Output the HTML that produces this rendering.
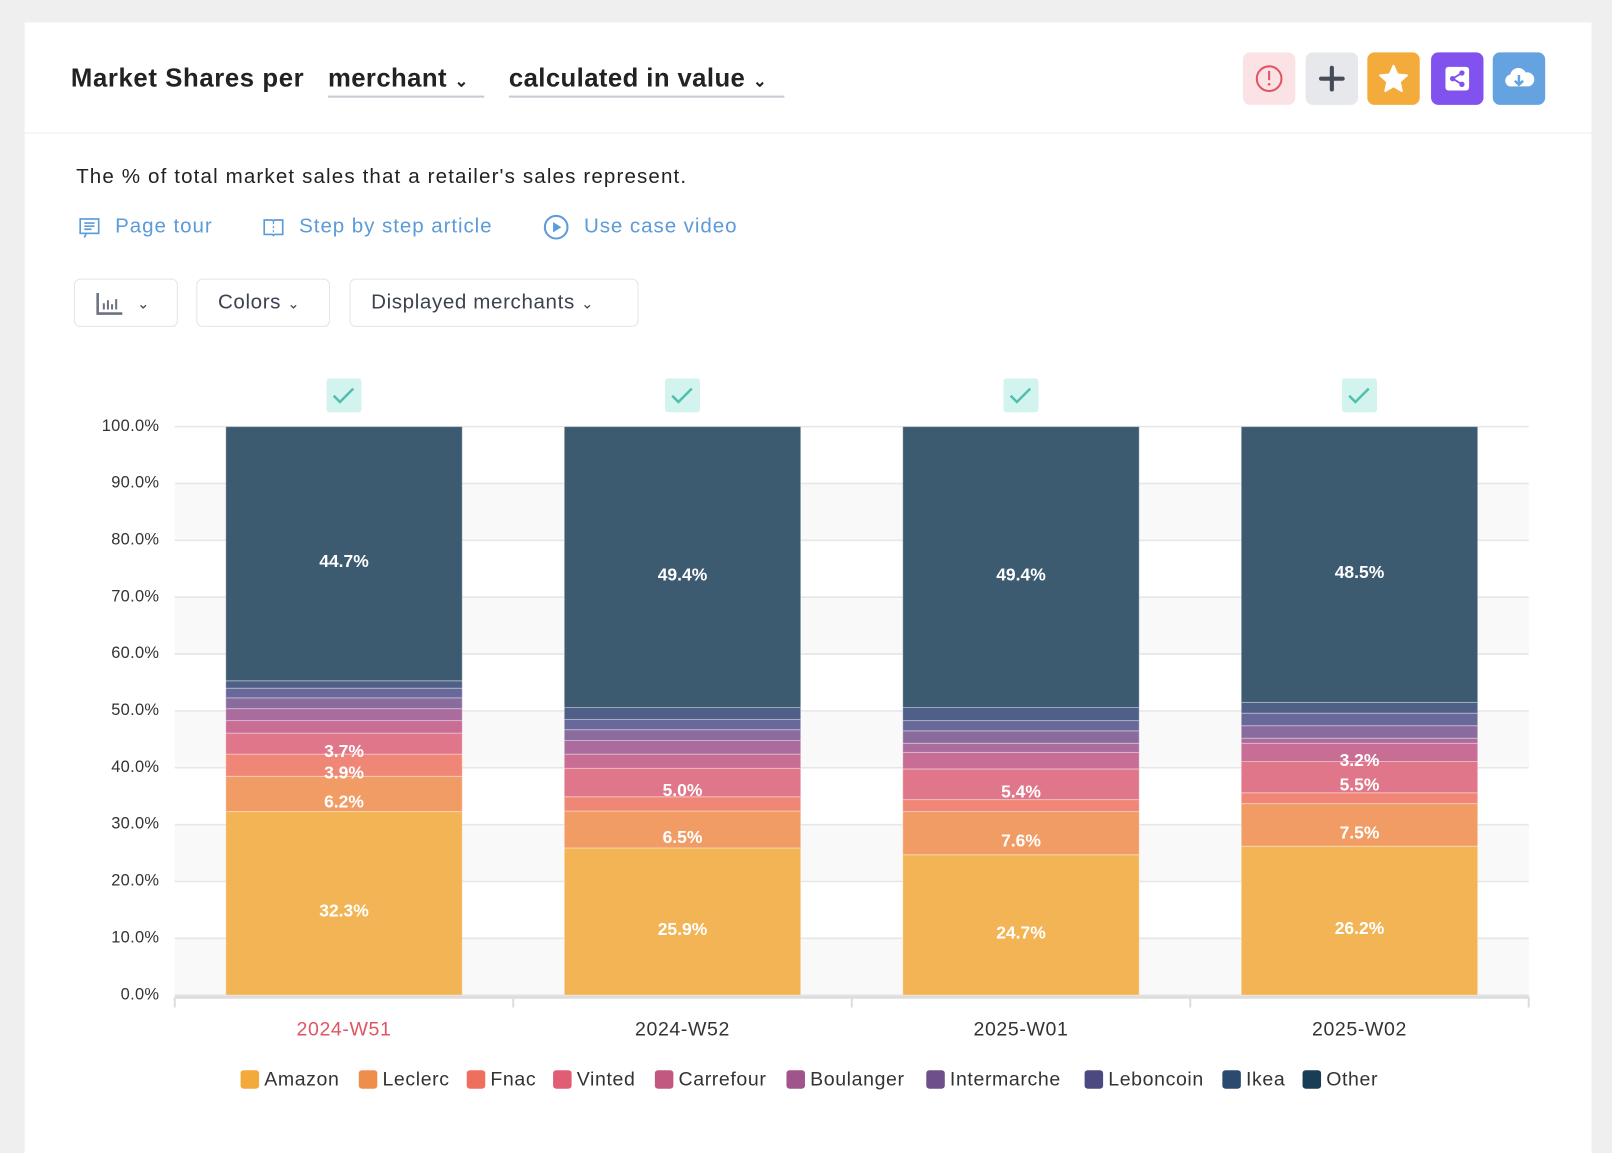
<!DOCTYPE html>
<html><head><meta charset="utf-8">
<style>
*{box-sizing:border-box;margin:0;padding:0}
body{width:1612px;height:1106px;background:#efefef;font-family:"Liberation Sans",sans-serif;overflow:hidden;position:relative}
#wrap{position:absolute;left:0;top:0;width:1568px;height:1076px;transform:scale(1.02806);transform-origin:0 0}
.card{position:absolute;left:24px;top:22px;width:1524px;height:1100px;background:#fff}
.hdr{position:absolute;left:0;top:0;width:1524px;height:108px;border-bottom:1px solid #eee}
.t{position:absolute;font-weight:bold;font-size:25px;color:#222;top:40px;letter-spacing:0.6px}
.dd{position:absolute;top:40px;font-weight:bold;font-size:25px;color:#222;border-bottom:2px solid #c8cbd3;padding-bottom:2px;letter-spacing:0.4px}
.btn{position:absolute;top:29px;width:51px;height:51px;border-radius:7px}
.desc{position:absolute;left:50px;top:139px;font-size:20px;color:#222;letter-spacing:1.1px}
.lnk{position:absolute;top:186px;font-size:20px;color:#5b9bd9;letter-spacing:0.9px;height:24px;line-height:24px}
.lnk svg{vertical-align:middle;margin-right:14px}
.tb{position:absolute;top:249px;height:47px;border:1px solid #e3e5ea;border-radius:6px;font-size:20px;color:#3c4250;line-height:45px;padding-left:20px;letter-spacing:0.6px}
</style></head><body>
<div id="wrap">
<div class="card">
 <div class="hdr">
  <div class="t" style="left:45px">Market Shares per</div>
  <div class="dd" style="left:295px;width:152px">merchant <span style="font-size:16px">&#8964;</span></div>
  <div class="dd" style="left:471px;width:268px">calculated in value <span style="font-size:16px">&#8964;</span></div>
  <div class="btn" style="left:1185px;background:#fbe3e5"><svg width="51" height="51"><circle cx="25.5" cy="25.5" r="12" fill="none" stroke="#e25563" stroke-width="2"/><rect x="24.5" y="18" width="2" height="9" fill="#e25563"/><circle cx="25.5" cy="31" r="1.3" fill="#e25563"/></svg></div>
  <div class="btn" style="left:1246px;background:#e6e8ec"><svg width="51" height="51"><path d="M25.5 15v21M15 25.5h21" stroke="#454b57" stroke-width="4" stroke-linecap="round"/></svg></div>
  <div class="btn" style="left:1306px;background:#f3ab3c"><svg width="51" height="51"><polygon points="25.5,13 29.3,21.5 38.5,22.3 31.5,28.5 33.5,37.5 25.5,32.8 17.5,37.5 19.5,28.5 12.5,22.3 21.7,21.5" fill="#fff" stroke="#fff" stroke-linejoin="round" stroke-width="2"/></svg></div>
  <div class="btn" style="left:1368px;background:#8252ee"><svg width="51" height="51"><rect x="14" y="14" width="23" height="23" rx="3" fill="#fff"/><circle cx="30" cy="20" r="2.6" fill="#8252ee"/><circle cx="21" cy="25.5" r="2.6" fill="#8252ee"/><circle cx="30" cy="31" r="2.6" fill="#8252ee"/><path d="M30 20L21 25.5L30 31" stroke="#8252ee" stroke-width="1.8" fill="none"/></svg></div>
  <div class="btn" style="left:1428px;background:#64a2e0"><svg width="51" height="51"><path d="M16 33a6 6 0 0 1 1-11.5a8 8 0 0 1 15-2a6.5 6.5 0 0 1 3 13.5z" fill="#fff"/><path d="M25.5 22v9M21.5 27.5l4 4l4-4" stroke="#64a2e0" stroke-width="2.4" fill="none"/></svg></div>
 </div>
 <div class="desc">The % of total market sales that a retailer's sales represent.</div>
 <div class="lnk" style="left:52px"><svg width="22" height="22"><rect x="2" y="3" width="18" height="14" fill="none" stroke="#5b9bd9" stroke-width="1.6"/><path d="M6 7h10M6 10h10M6 13h7M8 17l-2 4" stroke="#5b9bd9" stroke-width="1.6" fill="none"/></svg>Page tour</div>
 <div class="lnk" style="left:231px"><svg width="22" height="22"><path d="M2 4h8l1 1l1-1h8v14h-8l-1 1l-1-1h-8z" fill="none" stroke="#5b9bd9" stroke-width="1.6"/><path d="M11 6v11" stroke="#5b9bd9" stroke-width="1.2" stroke-dasharray="2 2"/></svg>Step by step article</div>
 <div class="lnk" style="left:504px"><svg width="26" height="26"><circle cx="13" cy="13" r="11" fill="none" stroke="#5b9bd9" stroke-width="2"/><polygon points="10,8 18,13 10,18" fill="#5b9bd9"/></svg>Use case video</div>
 <div class="tb" style="left:48px;width:101px"><svg width="28" height="24" style="vertical-align:middle"><path d="M2 2v20h24" stroke="#6c7280" stroke-width="2.5" fill="none"/><path d="M8 18v-6M12 18v-9M16 18v-5M20 18v-10" stroke="#6c7280" stroke-width="2"/></svg> &nbsp;<span style="font-size:14px">&#8964;</span></div>
 <div class="tb" style="left:167px;width:130px">Colors <span style="font-size:14px">&#8964;</span></div>
 <div class="tb" style="left:316px;width:281px">Displayed merchants <span style="font-size:14px">&#8964;</span></div>
</div>
<svg id="chart" width="1568" height="1076" style="position:absolute;left:0;top:0"></svg>
</div>
<script>
const categories=["2024-W51","2024-W52","2025-W01","2025-W02"];
const series=["Amazon","Leclerc","Fnac","Vinted","Carrefour","Boulanger","Intermarche","Leboncoin","Ikea","Other"];
const amazon=[32.3,25.9,24.7,26.2];
const leclerc=[6.2,6.5,7.6,7.5];
const fnac=[3.9,2.5,2.1,1.9];
const vinted=[3.7,5.0,5.4,5.5];
const carrefour=[2.2,2.5,2.9,3.2];
const boulanger=[2.1,2.4,1.6,0.9];
const intermarche=[1.9,1.9,2.2,2.2];
const leboncoin=[1.7,1.8,1.8,2.2];
const ikea=[1.3,2.1,2.3,1.9];
const other=[44.7,49.4,49.4,48.5];
const yTicks=[0,10,20,30,40,50,60,70,80,90,100];
const values=[amazon,leclerc,fnac,vinted,carrefour,boulanger,intermarche,leboncoin,ikea,other];
const barColors=["#f3b456","#f09c64","#ef8676","#e07689","#c86d93","#a96c9c","#8a6b9e","#68689a","#4f5f88","#3c5a70"];
const legColors=["#f4a93b","#ef8d4b","#ef6f5e","#e05d73","#c2587f","#a0548b","#6f4e8c","#4a4a80","#2b4a70","#173d57"];
const NS="http://www.w3.org/2000/svg";
const svg=document.getElementById('chart');
const X0=170,X1=1487,Y0=968,Y1=415;
const band=(X1-X0)/categories.length;
const y=v=>Y0-(v/100)*(Y0-Y1);
const xc=i=>X0+band*(i+0.5);
const FF='Liberation Sans, sans-serif';
function el(t,a,p){const e=document.createElementNS(NS,t);for(const k in a)e.setAttribute(k,a[k]);(p||svg).appendChild(e);return e;}
for(let i=0;i<yTicks.length-1;i++){
 if(i%2===0){const r=el('rect',{x:X0,y:y(yTicks[i+1]),width:X1-X0,height:y(yTicks[i])-y(yTicks[i+1]),fill:'#f9f9f9'});
 
 }
}
yTicks.forEach(v=>{
 const g=el('line',{x1:X0,x2:X1,y1:y(v),y2:y(v),stroke:'#e6e6e6','stroke-width':1.5});
 
 
 const t=el('text',{x:155,y:y(v)+4,'text-anchor':'end','font-size':16,fill:'#333','font-family':FF,'letter-spacing':0.3});
 t.textContent=v.toFixed(1)+'%';
 
 
});
const ax=el('line',{x1:X0,x2:X1,y1:Y0+2,y2:Y0+2,stroke:'#ddd','stroke-width':3});


for(let i=0;i<=categories.length;i++){
 const tk=el('line',{x1:X0+band*i,x2:X0+band*i,y1:Y0+2,y2:Y0+12,stroke:'#ddd','stroke-width':2});
 
 
}
const BW=230;
categories.forEach((c,i)=>{
 let acc=0;
 values.forEach((arr,s)=>{
  const v=arr[i];
  const r=el('rect',{x:xc(i)-BW/2,y:y(acc+v),width:BW,height:y(acc)-y(acc+v),fill:barColors[s],stroke:'rgba(255,255,255,0.35)','stroke-width':1});
  
  
  if(v>=3){
   const t=el('text',{x:xc(i),y:(y(acc)+y(acc+v))/2+13,'text-anchor':'middle','font-size':17,'font-weight':'bold',fill:'#fff','font-family':FF});
   t.textContent=v.toFixed(1)+'%';
   
   
  }
  acc+=v;
 });
 const cb=el('rect',{x:xc(i)-17,y:368,width:34,height:33,rx:3,fill:'#d3f3ef'});
 
 
 el('path',{d:`M${xc(i)-10} ${385}l6 6l13-13`,stroke:'#4dbfae','stroke-width':2.4,fill:'none'});
 const xl=el('text',{x:xc(i),y:1007,'text-anchor':'middle','font-size':19,fill:i===0?'#e05563':'#333','font-family':FF,'letter-spacing':0.6});
 xl.textContent=c;
 
 
});
const legX=[234,349,454,538,637,765,901,1055,1189,1267];
series.forEach((s,k)=>{
 const g=el('g',{});
 
 
 el('rect',{x:legX[k],y:1041,width:18,height:18,rx:3,fill:legColors[k]},g);
 const t=el('text',{x:legX[k]+23,y:1056,'font-size':19,fill:'#333','font-family':FF,'letter-spacing':0.6},g);
 t.textContent=s;
});
</script>
</body></html>
